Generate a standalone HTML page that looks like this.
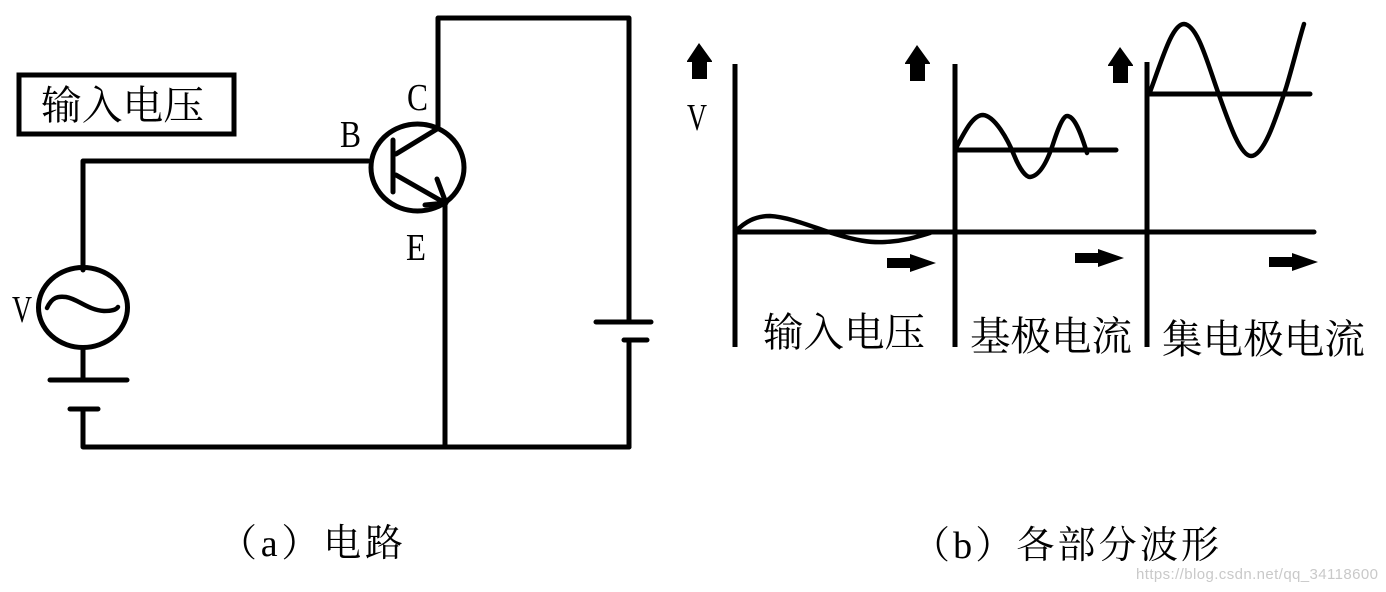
<!DOCTYPE html>
<html><head><meta charset="utf-8"><style>
html,body{margin:0;padding:0;background:#fff}
svg{display:block}
.c{font-family:"Liberation Serif","Noto Serif CJK SC",serif;fill:#000}
.l{font-family:"Liberation Serif",serif;fill:#000}
</style></head><body>
<svg width="1386" height="592" viewBox="0 0 1386 592" xmlns="http://www.w3.org/2000/svg">
<rect width="1386" height="592" fill="#fff"/>
<g fill="none" stroke="#000" stroke-width="5" stroke-linecap="round" stroke-linejoin="round">
<!-- label box -->
<rect x="19" y="75" width="215" height="59" stroke-linejoin="miter"/>
<!-- circuit -->
<path d="M368 161H83V270"/>
<ellipse cx="83" cy="307.500" rx="44.500" ry="40"/>
<path d="M47 308C52 297 58 296 66 297C78 299 88 310 104 311C112 311 116 310 118 307" stroke-width="4.500"/>
<path d="M83 348V380M50 380H127M70 409H98M83 409V447H629"/>
<ellipse cx="417.500" cy="167.500" rx="46.500" ry="43.500"/>
<path d="M438 128V18H629V322M596 322H651M624 340H647M629 340V447M445 203V447"/>
<!-- transistor -->
<path d="M393 140V192M396 154L437 129M396 175L445 203M437 179L446 203L425 205"/>
<!-- panels: axes -->
<path d="M735 64V347M955 64V347M1147 62V347" stroke-linecap="butt"/>
<path d="M735 232H1314"/>
<path d="M955 150H1116M1148 94H1310"/>
<!-- waves -->
<path d="M736 231C745 222 755 216 770 216C790 217 815 228 835 234C855 240 870 243 885 242C905 241 920 236 930 233" stroke-width="4.500"/>
<path d="M956 148C965 131 973 115 983 115C995 116 1008 140 1014 155C1020 170 1026 177 1030 177C1040 176 1048 160 1054 141C1060 123 1064 116 1067 116C1074 116 1080 130 1087 153" stroke-width="4.500"/>
<path d="M1150 92C1162 60 1172 24 1184 24C1198 25 1208 65 1219 95C1228 120 1240 156 1251 156C1264 156 1276 118 1286 88C1293 65 1299 40 1304 24" stroke-width="4.500"/>
</g>
<!-- block arrows -->
<g fill="#000">
<path d="M699 43L712 61V62H707V79H692V62H687V61Z"/>
<path d="M917 45L930 63V64H925V81H910V64H905V63Z"/>
<path d="M1120 47L1133 65V66H1128V83H1113V66H1108V65Z"/>
<path d="M887 258H910V254L936 263L910 272V268H887Z"/>
<path d="M1075 253H1098V249L1124 258L1098 267V263H1075Z"/>
<path d="M1269 257H1292V253L1318 262L1292 271V267H1269Z"/>
</g>
<!-- text -->
<text class="c" x="41" y="119" font-size="40" textLength="163" lengthAdjust="spacingAndGlyphs">输入电压</text>
<text class="l" x="407" y="110" font-size="38" textLength="21" lengthAdjust="spacingAndGlyphs">C</text>
<text class="l" x="340" y="147" font-size="38" textLength="21" lengthAdjust="spacingAndGlyphs">B</text>
<text class="l" x="406" y="260" font-size="38" textLength="20" lengthAdjust="spacingAndGlyphs">E</text>
<text class="l" x="12" y="322" font-size="38" textLength="20" lengthAdjust="spacingAndGlyphs">V</text>
<text class="l" x="687" y="130" font-size="38" textLength="20" lengthAdjust="spacingAndGlyphs">V</text>
<text class="c" x="763" y="346" font-size="40" textLength="162" lengthAdjust="spacingAndGlyphs">输入电压</text>
<text class="c" x="970" y="350" font-size="40" textLength="162" lengthAdjust="spacingAndGlyphs">基极电流</text>
<text class="c" x="1162" y="353" font-size="40" textLength="203" lengthAdjust="spacingAndGlyphs">集电极电流</text>
<text class="c" x="219" y="556" font-size="38" textLength="184" lengthAdjust="spacing">（a）电路</text>
<text class="c" x="912" y="558" font-size="38" textLength="307" lengthAdjust="spacing">（b）各部分波形</text>
<text x="1136" y="579" font-family="'Liberation Sans',sans-serif" font-size="15" fill="#c9c9c9" textLength="242">https://blog.csdn.net/qq_34118600</text>
</svg>
</body></html>
